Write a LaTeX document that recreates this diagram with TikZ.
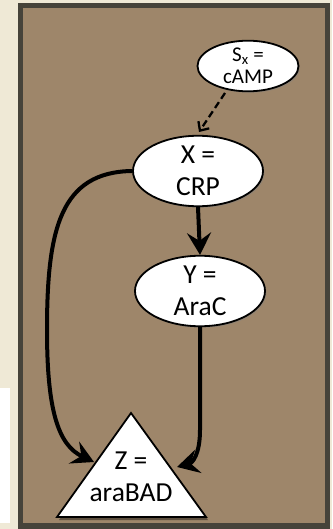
\documentclass[tikz,border=0pt]{standalone}
\usepackage{fontspec}
\setmainfont{Carlito}
\usetikzlibrary{arrows.meta,shapes.geometric,shadows}
\definecolor{bgbeige}{HTML}{EFE9D6}
\definecolor{framedark}{HTML}{46433A}
\definecolor{panelbrown}{HTML}{9E866A}
\tikzset{
  oval/.style={ellipse, draw=black, line width=1.8pt, fill=white, inner sep=0pt,
    align=center, drop shadow={shadow xshift=1.5pt, shadow yshift=-1.5pt, opacity=0.45}},
  bigtext/.style={font=\fontsize{27.5}{32}\selectfont},
  smalltext/.style={font=\fontsize{21}{22}\selectfont},
  conn/.style={line width=4pt, -{Stealth[length=22pt, width=24pt, inset=8pt]}},
  dconn/.style={line width=2.3pt, dash pattern=on 7pt off 4pt, -{Straight Barb[length=7pt, width=13pt, line width=2.3pt]}},
}
\begin{document}
\begin{tikzpicture}[x=1pt,y=-1pt]
\useasboundingbox (0,0) rectangle (332,529);
\fill[bgbeige] (0,0) rectangle (332,529);
\fill[white] (0,388) rectangle (10,523);
\fill[framedark] (18,3) rectangle (330,529);
\fill[panelbrown] (23,8) rectangle (325,523);

\node[oval, smalltext, minimum width=101pt, minimum height=44pt] (sx) at (248,66) {S\textsubscript{x} =\\cAMP};
\node[oval, bigtext, minimum width=130pt, minimum height=62pt] (x) at (198,171) {X =\\CRP};
\node[oval, bigtext, minimum width=130pt, minimum height=63pt] (y) at (200,291) {Y =\\AraC};

\fill[black, opacity=0.4] (133,416) -- (208,520) -- (59,520) -- cycle;
\draw[line width=1.8pt, fill=white, line join=miter] (131,413) -- (206,517) -- (57,517) -- cycle;
\node[bigtext, align=center, inner sep=0pt] (z) at (131,477) {Z =\\araBAD};
\coordinate (zl) at (94,462);
\coordinate (zr) at (177,467);
\coordinate (xa) at (199,132);

\draw[dconn] (225,93) -- (xa);
\draw[conn] (x.south) -- (y.north);
\draw[conn] (x.west) .. controls (60,172) and (47,230) .. (47,330) .. controls (47,410) and (58,445) .. (zl);
\draw[conn] (y.south) -- (200,430) .. controls (200,455) and (192,463) .. (zr);
\end{tikzpicture}
\end{document}
